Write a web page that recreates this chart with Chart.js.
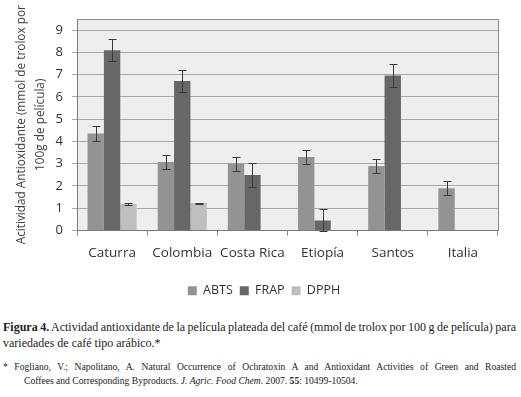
<!DOCTYPE html>
<html><head><meta charset="utf-8">
<script src="https://cdn.jsdelivr.net/npm/chart.js@4"></script>
<style>
html,body{margin:0;padding:0;background:#fff;width:521px;height:397px;overflow:hidden;}
#wrap{position:absolute;left:0;top:0;width:521px;height:311px;}
.cap{position:absolute;left:3px;font-family:"Liberation Serif","Times New Roman",serif;color:#222;white-space:nowrap;}
</style></head><body>
<div id="wrap"><canvas id="c"></canvas></div>
<div class="cap fit" data-w="513" style="top:320px;font-size:12px;"><b>Figura 4.</b> Actividad antioxidante de la película plateada del café (mmol de trolox por 100 g de película) para</div>
<div class="cap" style="top:336px;font-size:12px;">variedades de café tipo arábico.*</div>
<div class="cap fit" data-w="513" style="top:361px;font-size:9.6px;">* Fogliano, V.; Napolitano, A. Natural Occurrence of Ochratoxin A and Antioxidant Activities of Green and Roasted</div>
<div class="cap" style="top:375px;left:24px;font-size:9.6px;">Coffees and Corresponding Byproducts. <i>J. Agric. Food Chem</i>. 2007. <b>55</b>: 10499-10504.</div>
<script>
document.querySelectorAll('.fit').forEach(el => {
  const target = +el.dataset.w;
  const w = el.getBoundingClientRect().width;
  const spaces = (el.textContent.match(/ /g) || []).length;
  if (spaces) el.style.wordSpacing = ((target - w) / spaces) + 'px';
});

const categories = ["Caturra","Colombia","Costa Rica","Etiopía","Santos","Italia"];
const abts = [4.36, 3.08, 3.0, 3.3, 2.9, 1.9];
const frap = [8.1, 6.72, 2.49, 0.45, 6.96, null];
const dpph = [1.19, 1.23, null, null, null, null];
const abtsErr = [0.33, 0.32, 0.32, 0.33, 0.31, 0.31];
const frapErr = [0.5, 0.5, 0.52, 0.52, 0.52, null];
const dpphErr = [0.03, 0.02, null, null, null, null];
const yTicks = [0,1,2,3,4,5,6,7,8,9];
const yTitle = ["Acitividad Antioxidante (mmol de trolox por","100g de película)"];

const errs = [abtsErr, frapErr, dpphErr];

const bgPlugin = {
  id:'bg',
  afterLayout(chart){
    const lg = chart.legend;
    if (lg) { lg.left += 9; lg.right += 9; }
  },
  beforeDraw(chart){
    const {ctx, chartArea:a} = chart;
    ctx.save();
    ctx.fillStyle = '#eeeeee';
    ctx.fillRect(a.left, a.top, a.right-a.left, a.bottom-a.top);
    ctx.strokeStyle = '#8c8c8c';
    ctx.lineWidth = 1;
    ctx.beginPath();
    ctx.moveTo(a.left, a.top+0.5); ctx.lineTo(a.right+0.5, a.top+0.5); ctx.lineTo(a.right+0.5, a.bottom);
    ctx.stroke();
    ctx.restore();
  }
};
const errPlugin = {
  id:'err',
  afterDatasetsDraw(chart){
    const ctx = chart.ctx, y = chart.scales.y;
    ctx.save();
    ctx.strokeStyle = '#3a3a3a';
    ctx.lineWidth = 1;
    chart.data.datasets.forEach((ds, i) => {
      const meta = chart.getDatasetMeta(i);
      meta.data.forEach((bar, j) => {
        const v = ds.data[j], e = errs[i][j];
        if (v == null || e == null) return;
        const x = Math.round(bar.x) + 0.5;
        const yt = Math.round(y.getPixelForValue(v + e)) + 0.5;
        const yb = Math.round(y.getPixelForValue(Math.max(0, v - e))) + 0.5;
        ctx.beginPath();
        ctx.moveTo(x, yt); ctx.lineTo(x, yb);
        ctx.moveTo(x-4, yt); ctx.lineTo(x+4, yt);
        ctx.moveTo(x-4, yb); ctx.lineTo(x+4, yb);
        ctx.stroke();
      });
    });
    ctx.restore();
  }
};

new Chart(document.getElementById('c'), {
  type:'bar',
  data:{
    labels: categories,
    datasets:[
      {label:'ABTS', data:abts, backgroundColor:'#939393'},
      {label:'FRAP', data:frap, backgroundColor:'#676767'},
      {label:'DPPH', data:dpph, backgroundColor:'#bfbfbf'}
    ]
  },
  options:{
    responsive:true, maintainAspectRatio:false, animation:false,
    layout:{padding:{top:19,right:23,left:12,bottom:4}},
    datasets:{bar:{barPercentage:1, categoryPercentage:0.7}},
    plugins:{
      legend:{position:'bottom', labels:{boxWidth:9, boxHeight:9, color:'#333', padding:7, font:{family:'"Open Sans"', size:12.5}}},
      tooltip:{enabled:false}
    },
    scales:{
      x:{
        grid:{offset:true, drawOnChartArea:false, color:'#888', tickLength:5},
        border:{color:'#7a7a7a'},
        ticks:{color:'#333', padding:10, maxRotation:0, minRotation:0, autoSkip:false, font:{family:'"Open Sans"', size:13.5}},
        afterFit(s){ s.height = 47; }
      },
      y:{
        min:0, max:9.5,
        afterBuildTicks(s){ s.ticks = yTicks.map(v=>({value:v})); },
        grid:{color:'#a8a8a8', tickLength:5},
        border:{color:'#7a7a7a'},
        ticks:{color:'#333', padding:9, font:{family:'"Open Sans"', size:13}},
        title:{display:true, text:yTitle, color:'#404040', font:{family:'"Open Sans"', size:11.8, lineHeight:1.6}, padding:{top:0,bottom:2}},
        afterFit(s){ s.width = 65; }
      }
    }
  },
  plugins:[bgPlugin, errPlugin]
});
</script>
</body></html>
